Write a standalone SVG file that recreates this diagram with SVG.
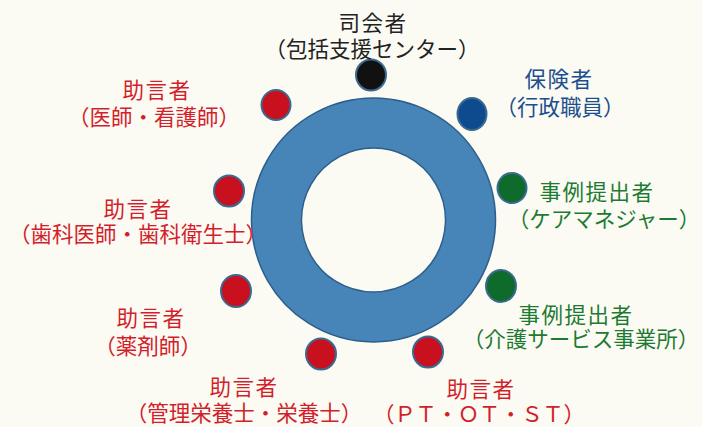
<svg xmlns="http://www.w3.org/2000/svg" width="702" height="427" viewBox="0 0 702 427">
<style>
text{font-family:"Noto Sans CJK JP","Noto Sans",sans-serif;font-size:21.5px;text-anchor:middle}
.t1{letter-spacing:1.5px}
.red{fill:#d21f2b}.blk{fill:#222}.blu{fill:#1c4f8e}.grn{fill:#1d7a32}
.dot{stroke:#3b6a91;stroke-width:2}
</style>
<rect width="702" height="427" fill="#fbfaf3"/>
<g id="ring">
<path d="M373.5,98a122,122 0 1,0 0.01,0ZM373.5,148a72,72 0 1,1 -0.01,0Z" fill="#4784b8" fill-rule="evenodd" stroke="#2d5f8c" stroke-width="1.5"/>
</g>
<g id="n-chair">
<ellipse class="dot" cx="371" cy="75" rx="15" ry="15.5" fill="#111"/>
<text class="blk t1" x="373" y="31">司会者</text>
<text class="blk" x="372" y="57">（包括支援センター）</text>
</g>
<g id="n-doctor">
<ellipse class="dot" cx="276" cy="105" rx="14.5" ry="15" fill="#c8101f"/>
<text class="red t1" x="157" y="98">助言者</text>
<text class="red" x="154" y="125">（医師・看護師）</text>
</g>
<g id="n-insurer">
<ellipse class="dot" cx="472" cy="114" rx="14.5" ry="16" fill="#0e4a8e"/>
<text class="blu t1" x="559" y="87">保険者</text>
<text class="blu" x="560" y="115">（行政職員）</text>
</g>
<g id="n-dental">
<ellipse class="dot" cx="229" cy="191" rx="15" ry="15.5" fill="#c8101f"/>
<text class="red t1" x="138" y="217">助言者</text>
<text class="red" x="138" y="242">（歯科医師・歯科衛生士）</text>
</g>
<g id="n-caremanager">
<ellipse class="dot" cx="512" cy="188" rx="14.5" ry="15" fill="#0f6b2b"/>
<text class="grn t1" x="597" y="200">事例提出者</text>
<text class="grn" x="604" y="227">（ケアマネジャー）</text>
</g>
<g id="n-pharmacist">
<ellipse class="dot" cx="236" cy="291" rx="15" ry="16" fill="#c8101f"/>
<text class="red t1" x="151" y="326">助言者</text>
<text class="red" x="148" y="354">（薬剤師）</text>
</g>
<g id="n-service">
<ellipse class="dot" cx="501" cy="286" rx="15" ry="16" fill="#0f6b2b"/>
<text class="grn t1" x="576" y="323">事例提出者</text>
<text class="grn" x="581" y="347">（介護サービス事業所）</text>
</g>
<g id="n-nutrition">
<ellipse class="dot" cx="321" cy="354" rx="15" ry="15.5" fill="#c8101f"/>
<text class="red t1" x="244" y="395">助言者</text>
<text class="red" x="244" y="421">（管理栄養士・栄養士）</text>
</g>
<g id="n-therapist">
<ellipse class="dot" cx="428" cy="352" rx="15" ry="15.5" fill="#c8101f"/>
<text class="red t1" x="481" y="397">助言者</text>
<text class="red" x="479" y="422" textLength="212" lengthAdjust="spacing">（ＰＴ・ＯＴ・ＳＴ）</text>
</g>
<g id="connectors"/>
</svg>
